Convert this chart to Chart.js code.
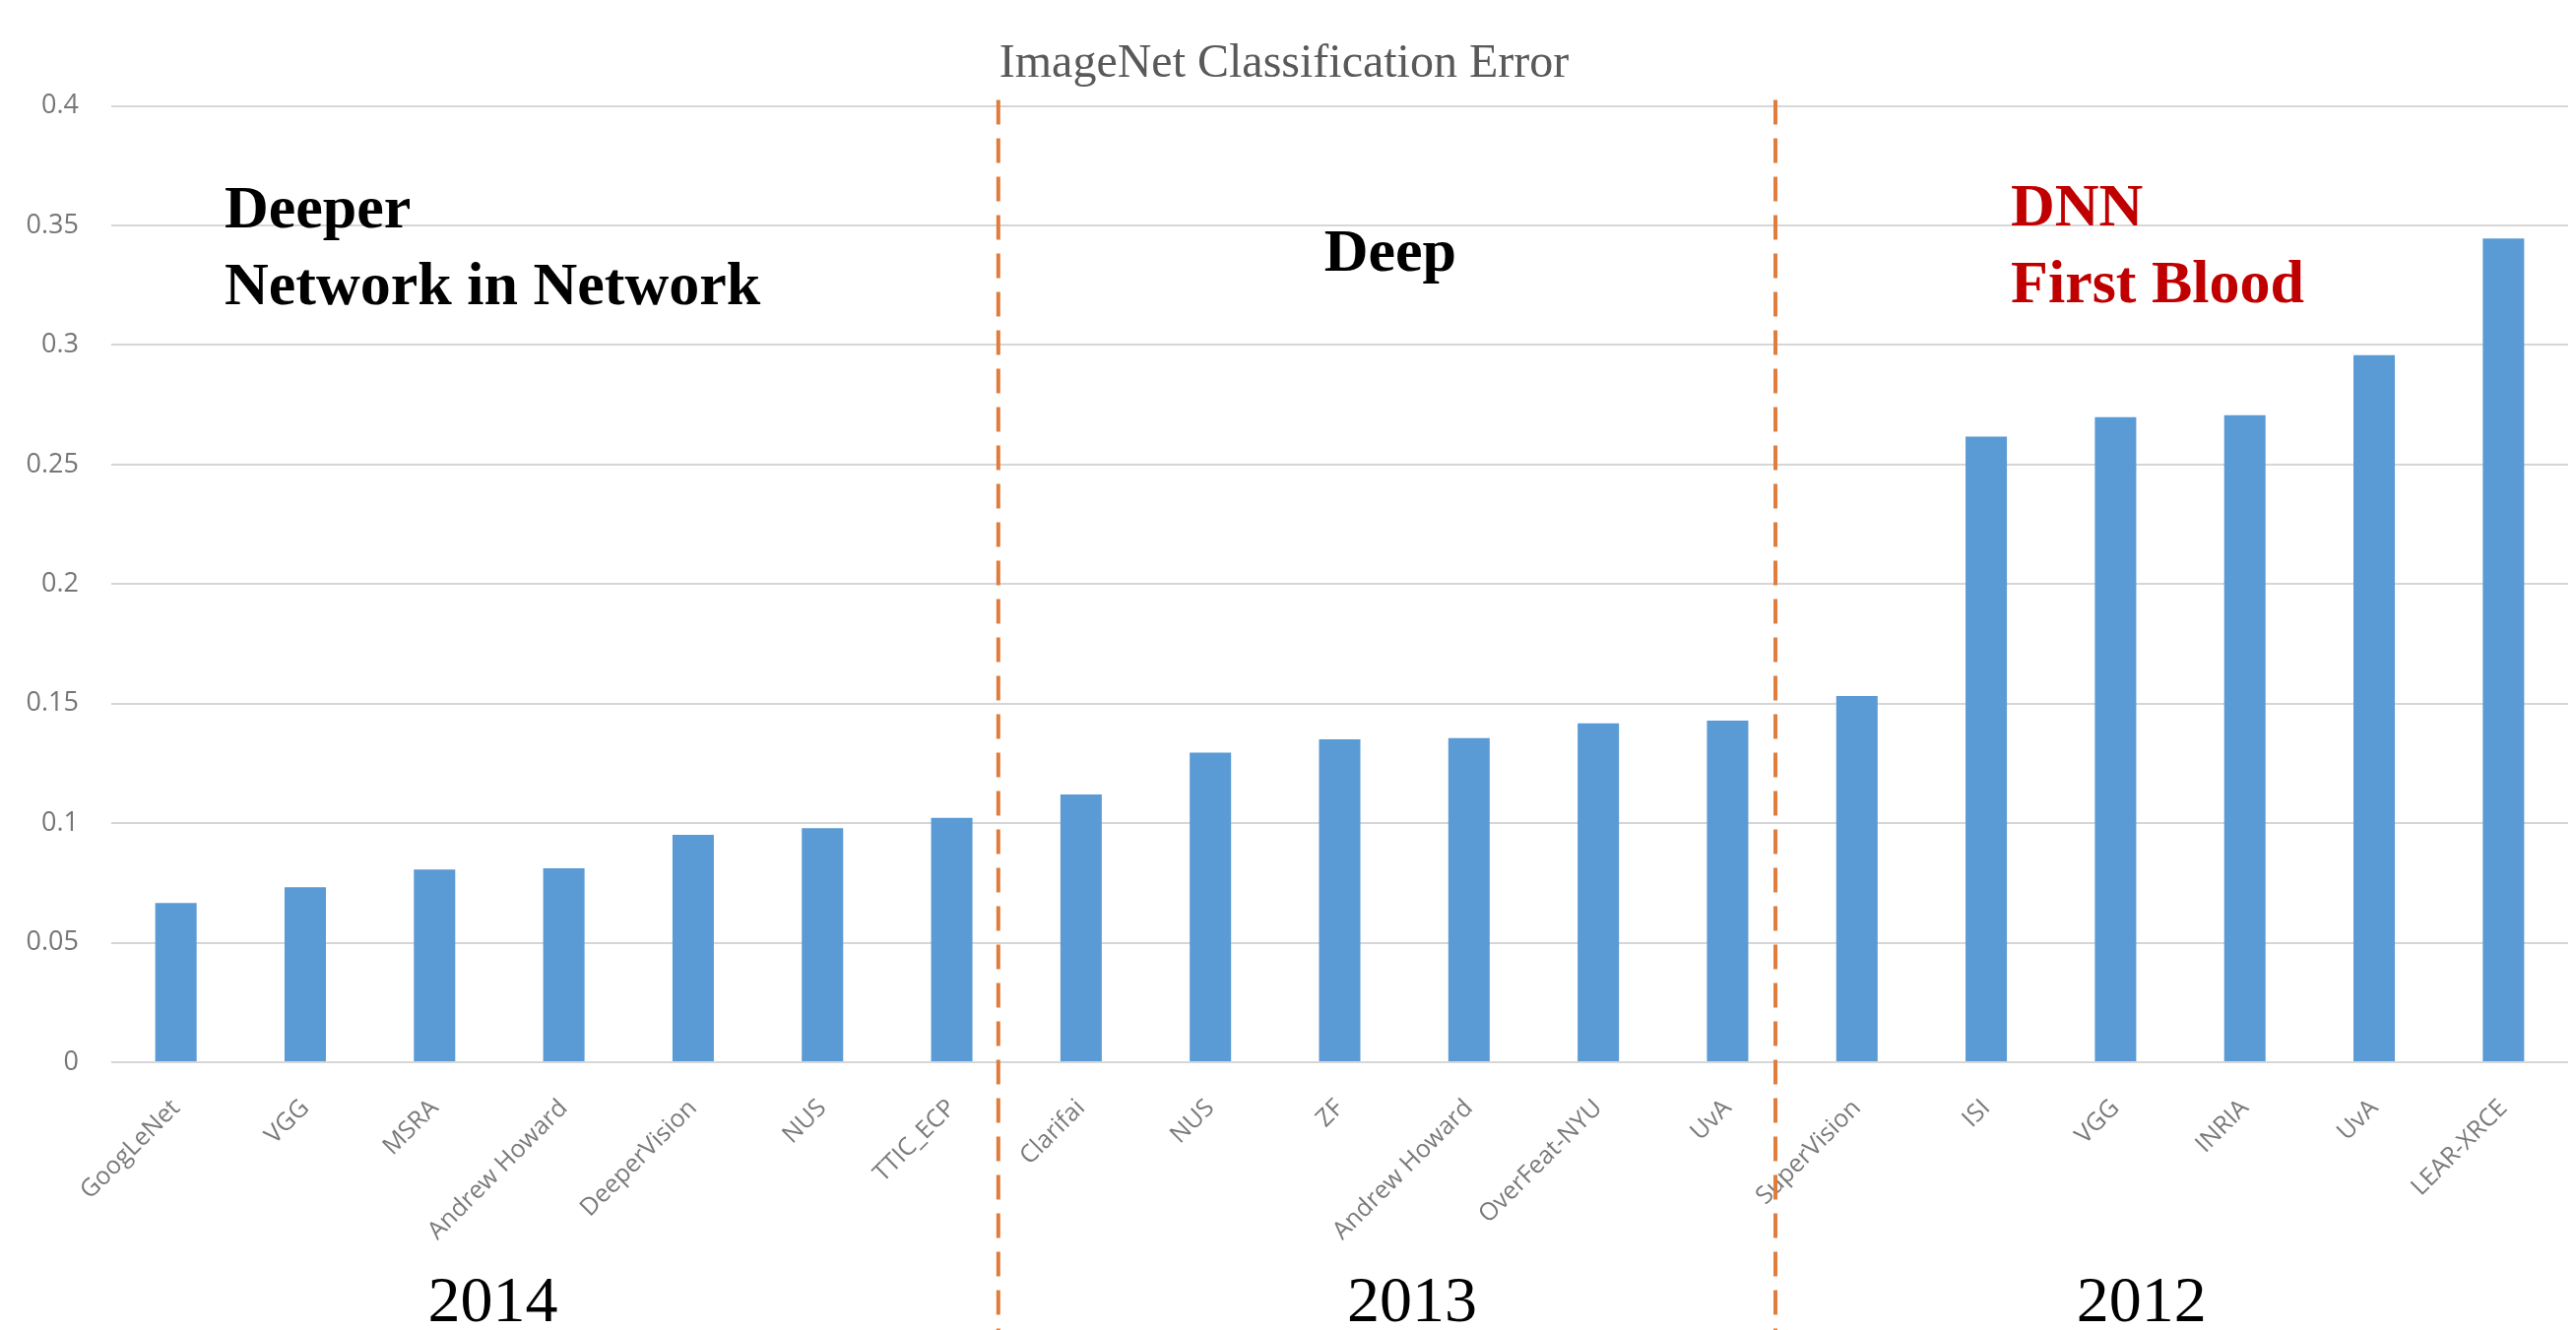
<!DOCTYPE html>
<html>
<head>
<meta charset="utf-8">
<script src="https://cdn.jsdelivr.net/npm/chart.js@4.4.1/dist/chart.umd.min.js"></script>
<style>
  html, body { margin: 0; padding: 0; background: #fff; }
  #wrap { width: 2616px; height: 1351px; }
</style>
</head>
<body>
<div id="wrap"><canvas id="chart"></canvas></div>
<script>
// teams, left to right (2014 | 2013 | 2012)
const teams = ['GoogLeNet', 'VGG', 'MSRA', 'Andrew Howard', 'DeeperVision', 'NUS', 'TTIC_ECP',
  'Clarifai', 'NUS', 'ZF', 'Andrew Howard', 'OverFeat-NYU', 'UvA',
  'SuperVision', 'ISI', 'VGG', 'INRIA', 'UvA', 'LEAR-XRCE'];
// classification error
const errors = [0.0666, 0.0732, 0.0806, 0.0811, 0.0951, 0.0979, 0.1022,
  0.1120, 0.1295, 0.1351, 0.1356, 0.1418, 0.1429,
  0.1532, 0.2617, 0.2698, 0.2706, 0.2958, 0.3446];
const yTicks = ['0', '0.05', '0.1', '0.15', '0.2', '0.25', '0.3', '0.35', '0.4'];
const years = ['2014', '2013', '2012'];
const headings = [['Deeper', 'Network in Network'], ['Deep'], ['DNN', 'First Blood']];

// text and separators drawn on top
const decor = {
  id: 'decor',
  afterDatasetsDraw(chart) {
    const { ctx, chartArea, scales: { x, y } } = chart;
    const step = x.getPixelForValue(1) - x.getPixelForValue(0);
    const at = i => x.getPixelForValue(0) + i * step;
    ctx.save();

    // dashed lines between the years
    ctx.strokeStyle = '#E07D3C';
    ctx.lineWidth = 4;
    ctx.setLineDash([25, 14]);
    [6.36, 12.37].forEach(i => {
      ctx.beginPath();
      ctx.moveTo(at(i), chartArea.top - 6);
      ctx.lineTo(at(i), chart.height);
      ctx.stroke();
    });
    ctx.setLineDash([]);

    // headings
    ctx.font = 'bold 62px "Liberation Serif", "Times New Roman", serif';
    ctx.textAlign = 'left';
    ctx.textBaseline = 'alphabetic';
    ctx.fillStyle = '#000';
    ctx.fillText(headings[0][0], at(0.376), y.getPixelForValue(0.3490));
    ctx.fillText(headings[0][1], at(0.376), y.getPixelForValue(0.3170));
    ctx.fillText(headings[1][0], at(8.88), y.getPixelForValue(0.3310));
    ctx.fillStyle = '#C00000';
    ctx.fillText(headings[2][0], at(14.19), y.getPixelForValue(0.3500));
    ctx.fillText(headings[2][1], at(14.19), y.getPixelForValue(0.3180));

    // years under the labels
    ctx.font = '66px "Liberation Serif", "Times New Roman", serif';
    ctx.fillStyle = '#000';
    ctx.textAlign = 'center';
    [2.45, 9.56, 15.2].forEach((i, k) => {
      ctx.fillText(years[k], at(i), chart.height - 9);
    });
    ctx.restore();
  }
};

const ctx = document.getElementById('chart').getContext('2d');
new Chart(ctx, {
  type: 'bar',
  data: {
    labels: teams,
    datasets: [{
      data: errors,
      backgroundColor: '#5B9BD5',
      barPercentage: 0.32,
      categoryPercentage: 1
    }]
  },
  options: {
    responsive: true,
    maintainAspectRatio: false,
    animation: false,
    layout: { padding: { top: 0, right: 8, bottom: 0, left: 0 } },
    plugins: {
      legend: { display: false },
      tooltip: { enabled: false },
      title: {
        display: true,
        text: 'ImageNet Classification Error',
        color: '#595959',
        font: { family: '"Liberation Serif", serif', size: 48, weight: 'normal' },
        padding: { top: 37, bottom: 13 }
      }
    },
    scales: {
      x: {
        grid: { display: false, drawTicks: false },
        border: { display: false },
        ticks: {
          color: '#7a7a7a',
          font: { family: '"Open Sans", sans-serif', size: 25 },
          minRotation: 45,
          maxRotation: 45,
          autoSkip: false,
          padding: 32
        },
        afterFit(scale) { scale.height = 272; }
      },
      y: {
        min: 0,
        max: 0.4,
        grid: { color: '#d6d6d6', lineWidth: 2, drawTicks: false },
        border: { display: false },
        ticks: {
          stepSize: 0.05,
          color: '#767676',
          font: { family: '"Open Sans", sans-serif', size: 27 },
          padding: 33,
          callback: (v, i) => yTicks[i]
        },
        afterFit(scale) { scale.width = 113; }
      }
    }
  },
  plugins: [decor]
});
</script>
</body>
</html>
